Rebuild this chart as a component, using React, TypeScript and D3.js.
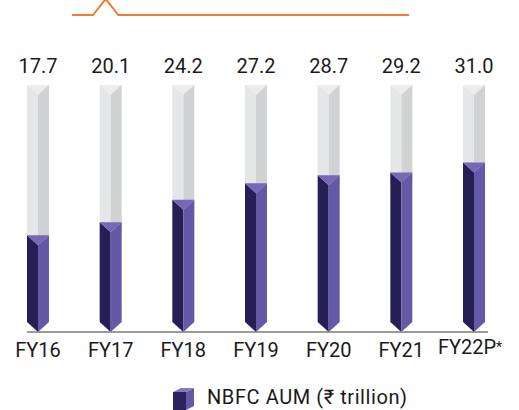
import React from "react";
import * as d3 from "d3";

const categories = ["FY16", "FY17", "FY18", "FY19", "FY20", "FY21", "FY22P"];
const values = [17.7, 20.1, 24.2, 27.2, 28.7, 29.2, 31.0];
const valueLabels = ["17.7", "20.1", "24.2", "27.2", "28.7", "29.2", "31.0"];
const legendLabel = "NBFC AUM (₹ trillion)";
const maxTrack = 45.2;

const W = 519;
const H = 410;
const FONT = "Roboto, 'Noto Sans', sans-serif";

export default function App() {
  const x = d3.scalePoint<string>().domain(categories).range([38, 474]);
  const y = d3.scaleLinear().domain([0, maxTrack]).range([332, 85]);
  const hw = 11;
  const d = 10;
  const base = y(0);
  const top = y(maxTrack);

  const orange = d3.line()([
    [72, 15],
    [93, 15],
    [105.7, -1],
    [118.3, 15],
    [409, 15],
  ]);

  return (
    <svg
      width={W}
      height={H}
      style={{ position: "absolute", left: 0, top: 0, background: "#fff" }}
    >
      <path d={orange || ""} fill="none" stroke="#f47b2a" strokeWidth={2} />
      {categories.map((c, i) => {
        const cx = x(c) as number;
        const yv = y(values[i]);
        const pts = (a: number[][]) => a.map((p) => p.join(",")).join(" ");
        return (
          <g key={c}>
            <rect x={cx - hw} y={top} width={hw} height={yv + d - top} fill="#e5e6e8" />
            <rect x={cx} y={top} width={hw} height={yv + d - top} fill="#d1d2d4" />
            <polygon
              points={pts([
                [cx - hw, top],
                [cx + hw, top],
                [cx, top + d],
              ])}
              fill="#ededee"
            />
            <polygon
              points={pts([
                [cx - hw, yv],
                [cx, yv + d],
                [cx, base],
                [cx - hw, base - d],
              ])}
              fill="#251f56"
            />
            <polygon
              points={pts([
                [cx, yv + d],
                [cx + hw, yv],
                [cx + hw, base - d],
                [cx, base],
              ])}
              fill="#6458a7"
            />
            <polygon
              points={pts([
                [cx - hw, yv],
                [cx + hw, yv],
                [cx, yv + d],
              ])}
              fill="#7767b6"
            />
            <text
              x={cx}
              y={73}
              textAnchor="middle"
              fontFamily={FONT}
              fontSize={20}
              fill="#1a1a1a"
            >
              {valueLabels[i]}
            </text>
            <text
              x={i === categories.length - 1 ? cx - 4 : cx}
              y={i === categories.length - 1 ? 354 : 357}
              textAnchor="middle"
              fontFamily={FONT}
              fontSize={20}
              fill="#1a1a1a"
            >
              {c}
              {i === categories.length - 1 ? (
                <tspan fontSize={14} dy={-2}>*</tspan>
              ) : null}
            </text>
          </g>
        );
      })}
      <line x1={27} x2={488} y1={base} y2={base} stroke="#7a7a7a" strokeWidth={1.5} />
      <g>
        <polygon points="173,392 186,392 186,410 173,410" fill="#2a2360" />
        <polygon points="186,392 194,388 194,406 186,410" fill="#6458a7" />
        <polygon points="173,392 181,388 194,388 186,392" fill="#8677c4" />
        <text x={207} y={404} fontFamily={FONT} fontSize={20} fill="#1a1a1a" textLength={200} lengthAdjust="spacing">
          {legendLabel}
        </text>
      </g>
    </svg>
  );
}
